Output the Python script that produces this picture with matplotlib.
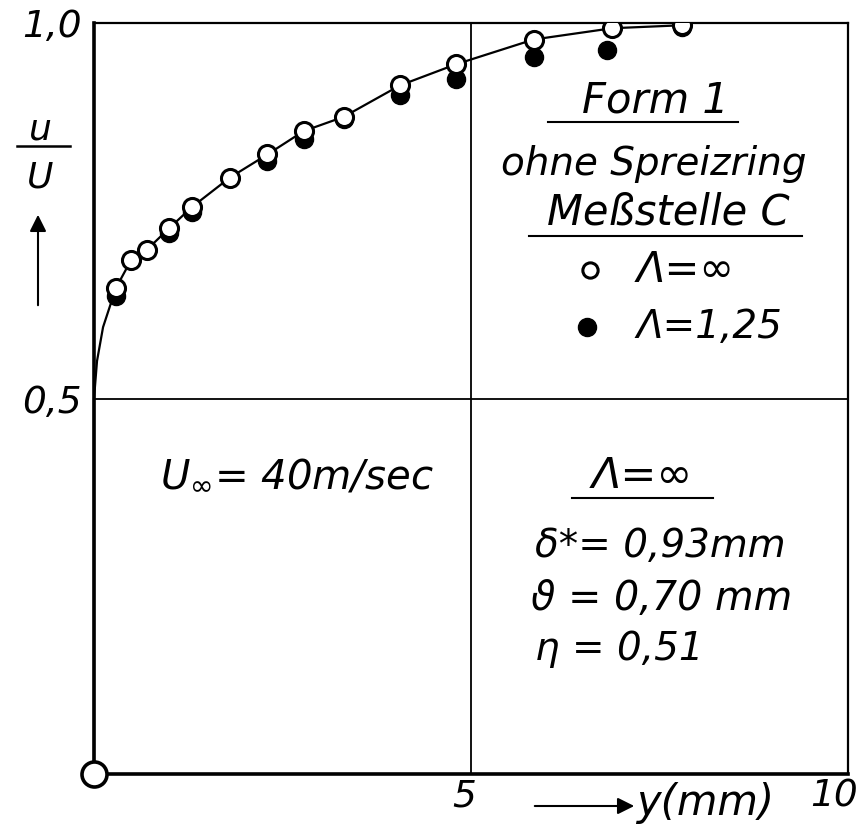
import matplotlib
matplotlib.use("Agg")
import matplotlib.pyplot as plt
import matplotlib.transforms as mtransforms

plt.rcParams['font.family'] = ['DejaVu Sans']
plt.rcParams['mathtext.fontset'] = 'dejavusans'

# Messpunkte, Lambda = unendlich (offene Kreise)
y_open = [0.29, 0.49, 0.70, 1.00, 1.30, 1.80, 2.30, 2.78, 3.31, 4.06, 4.80, 5.83, 6.87, 7.80]
u_open = [0.647, 0.684, 0.698, 0.727, 0.755, 0.794, 0.825, 0.856, 0.875, 0.917, 0.945, 0.978, 0.993, 0.997]
# Messpunkte, Lambda = 1,25 (volle Kreise)
y_full = [0.29, 1.00, 1.30, 2.30, 2.78, 3.31, 4.06, 4.80, 5.83, 6.80, 7.80]
u_full = [0.636, 0.720, 0.748, 0.816, 0.846, 0.872, 0.904, 0.925, 0.955, 0.964, 0.995]
# gezeichnete Profilkurve
y_curve = [0.0, 0.0, 0.04, 0.12, 0.29, 0.49, 0.70, 1.00, 1.30, 1.80, 2.30, 2.78, 3.31, 4.06, 4.80, 5.83, 6.87, 7.80]
u_curve = [0.0, 0.50, 0.55, 0.595, 0.647, 0.684, 0.698, 0.727, 0.755, 0.794, 0.825, 0.856, 0.875, 0.917, 0.945, 0.978, 0.993, 0.997]

xticks = [5, 10]
xticklabels = ["5", "10"]
yticks = [0.5, 1.0]
yticklabels = ["0,5", "1,0"]

fig = plt.figure(figsize=(8.68, 8.33), dpi=100)
ax = fig.add_axes([0.1083, 0.0708, 0.8687, 0.9016])
ax.set_xlim(0, 10)
ax.set_ylim(0, 1.0)

for s in ['left', 'bottom']:
    ax.spines[s].set_linewidth(2.6)
for s in ['top', 'right']:
    ax.spines[s].set_linewidth(1.6)

ax.axvline(5, color='black', lw=1.3)
ax.axhline(0.5, color='black', lw=1.3)

tfont = dict(style='italic', color='black')

ax.set_xticks(xticks)
ax.set_xticklabels(xticklabels, fontsize=27, **tfont)
ax.set_yticks(yticks)
ax.set_yticklabels(yticklabels, fontsize=27, **tfont)
ax.tick_params(length=0)
ax.tick_params(axis='x', pad=3)
ax.tick_params(axis='y', pad=9)
# "10" etwas nach links, damit es nicht abgeschnitten wird
lab10 = ax.get_xticklabels()[1]
lab10.set_transform(lab10.get_transform() + mtransforms.ScaledTranslation(-14 / 100, 0, fig.dpi_scale_trans))
lab5 = ax.get_xticklabels()[0]
lab5.set_transform(lab5.get_transform() + mtransforms.ScaledTranslation(-7 / 100, 0, fig.dpi_scale_trans))

ax.plot(y_full, u_full, 'o', ms=13, color='black', zorder=3)
ax.plot(y_curve, u_curve, '-', color='black', lw=1.6, zorder=4, clip_on=False)
ax.plot(y_open, u_open, 'o', ms=13, mfc='white', mec='black', mew=2.2, zorder=5)
ax.plot([0], [0], 'o', ms=18, mfc='white', mec='black', mew=2.6, zorder=6, clip_on=False)

# Beschriftung rechts oben
ax.text(7.45, 0.897, "Form 1", ha='center', va='center', fontsize=30, **tfont)
ax.plot([6.02, 8.54], [0.868, 0.868], color='black', lw=1.5)
ax.text(7.43, 0.8125, "ohne Spreizring", ha='center', va='center', fontsize=28, **tfont)
ax.text(7.62, 0.748, "Meßstelle C", ha='center', va='center', fontsize=30, **tfont)
ax.plot([5.77, 9.39], [0.716, 0.716], color='black', lw=1.5)
ax.plot([6.58], [0.671], 'o', ms=11, mfc='white', mec='black', mew=2.2)
ax.text(7.2, 0.671, "Λ=∞", ha='left', va='center', fontsize=30, **tfont)
ax.plot([6.54], [0.595], 'o', ms=13, color='black')
ax.text(7.2, 0.595, "Λ=1,25", ha='left', va='center', fontsize=28, **tfont)

# Beschriftung unten
ax.text(2.69, 0.398, r"$U_{\infty}$= 40m/sec", ha='center', va='center', fontsize=29, **tfont)
ax.text(7.27, 0.397, "Λ=∞", ha='center', va='center', fontsize=31, **tfont)
ax.plot([6.34, 8.21], [0.3675, 0.3675], color='black', lw=1.5)
ax.text(5.85, 0.289, "δ*= 0,93mm", ha='left', va='baseline', fontsize=28, **tfont)
ax.text(5.80, 0.218, "ϑ = 0,70 mm", ha='left', va='baseline', fontsize=28.5, **tfont)
ax.text(5.85, 0.152, "η = 0,51", ha='left', va='baseline', fontsize=28, **tfont)

# Achsenbeschriftung u/U mit Pfeil
fig.text(40 / 868, 1 - 130 / 833, "u", ha='center', va='center', fontsize=26, **tfont)
fig.add_artist(plt.Line2D([17 / 868, 70 / 868], [1 - 146 / 833, 1 - 146 / 833], color='black', lw=1.8))
fig.text(40 / 868, 1 - 177 / 833, "U", ha='center', va='center', fontsize=26, **tfont)
ax.annotate("", xy=(38 / 868, 1 - 212 / 833), xytext=(38 / 868, 1 - 308 / 833),
            xycoords='figure fraction', textcoords='figure fraction',
            arrowprops=dict(arrowstyle='-|>', color='black', lw=1.5, mutation_scale=25))

# y(mm) mit Pfeil
ax.annotate("", xy=(637 / 868, 1 - 806 / 833), xytext=(532 / 868, 1 - 806 / 833),
            xycoords='figure fraction', textcoords='figure fraction',
            arrowprops=dict(arrowstyle='-|>', color='black', lw=1.5, mutation_scale=25))
fig.text(636 / 868, 1 - 803 / 833, "y(mm)", ha='left', va='center', fontsize=30, **tfont)

fig.savefig("out.png", dpi=100)
